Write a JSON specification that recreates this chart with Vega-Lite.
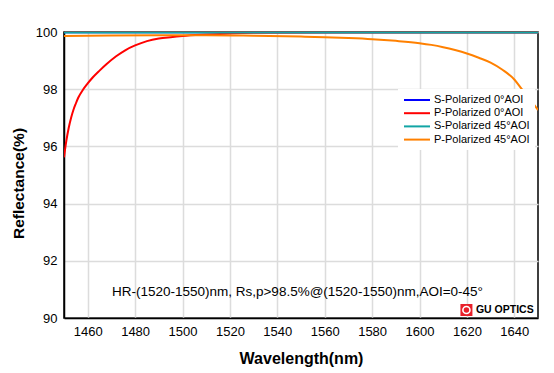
{
  "$schema": "https://vega.github.io/schema/vega-lite/v6.json",
  "width": 474,
  "height": 286,
  "autosize": {"type": "none"},
  "padding": {"left": 64, "top": 32, "right": 16, "bottom": 55},
  "background": "white",
  "config": {
    "view": {"stroke": "black", "strokeWidth": 1.5},
    "font": "Liberation Sans"
  },
  "datasets": {
    "lines": [
      {"wl": 1450, "R": 99.99, "series": "S-Polarized 0°AOI"},
      {"wl": 1500, "R": 99.99, "series": "S-Polarized 0°AOI"},
      {"wl": 1550, "R": 99.99, "series": "S-Polarized 0°AOI"},
      {"wl": 1600, "R": 99.99, "series": "S-Polarized 0°AOI"},
      {"wl": 1650, "R": 99.99, "series": "S-Polarized 0°AOI"},

      {"wl": 1450, "R": 95.62, "series": "P-Polarized 0°AOI"},
      {"wl": 1451, "R": 96.2, "series": "P-Polarized 0°AOI"},
      {"wl": 1452, "R": 96.65, "series": "P-Polarized 0°AOI"},
      {"wl": 1453, "R": 97.0, "series": "P-Polarized 0°AOI"},
      {"wl": 1454, "R": 97.28, "series": "P-Polarized 0°AOI"},
      {"wl": 1455, "R": 97.5, "series": "P-Polarized 0°AOI"},
      {"wl": 1456, "R": 97.7, "series": "P-Polarized 0°AOI"},
      {"wl": 1458, "R": 97.98, "series": "P-Polarized 0°AOI"},
      {"wl": 1460, "R": 98.2, "series": "P-Polarized 0°AOI"},
      {"wl": 1462, "R": 98.4, "series": "P-Polarized 0°AOI"},
      {"wl": 1465, "R": 98.65, "series": "P-Polarized 0°AOI"},
      {"wl": 1468, "R": 98.88, "series": "P-Polarized 0°AOI"},
      {"wl": 1472, "R": 99.15, "series": "P-Polarized 0°AOI"},
      {"wl": 1476, "R": 99.37, "series": "P-Polarized 0°AOI"},
      {"wl": 1480, "R": 99.53, "series": "P-Polarized 0°AOI"},
      {"wl": 1485, "R": 99.68, "series": "P-Polarized 0°AOI"},
      {"wl": 1490, "R": 99.77, "series": "P-Polarized 0°AOI"},
      {"wl": 1495, "R": 99.82, "series": "P-Polarized 0°AOI"},
      {"wl": 1500, "R": 99.86, "series": "P-Polarized 0°AOI"},
      {"wl": 1510, "R": 99.91, "series": "P-Polarized 0°AOI"},
      {"wl": 1520, "R": 99.95, "series": "P-Polarized 0°AOI"},
      {"wl": 1530, "R": 99.97, "series": "P-Polarized 0°AOI"},
      {"wl": 1560, "R": 99.98, "series": "P-Polarized 0°AOI"},
      {"wl": 1600, "R": 99.98, "series": "P-Polarized 0°AOI"},
      {"wl": 1650, "R": 99.98, "series": "P-Polarized 0°AOI"},

      {"wl": 1450, "R": 99.98, "series": "S-Polarized 45°AOI"},
      {"wl": 1500, "R": 99.98, "series": "S-Polarized 45°AOI"},
      {"wl": 1550, "R": 99.98, "series": "S-Polarized 45°AOI"},
      {"wl": 1600, "R": 99.98, "series": "S-Polarized 45°AOI"},
      {"wl": 1650, "R": 99.98, "series": "S-Polarized 45°AOI"},

      {"wl": 1450, "R": 99.86, "series": "P-Polarized 45°AOI"},
      {"wl": 1470, "R": 99.88, "series": "P-Polarized 45°AOI"},
      {"wl": 1490, "R": 99.89, "series": "P-Polarized 45°AOI"},
      {"wl": 1510, "R": 99.89, "series": "P-Polarized 45°AOI"},
      {"wl": 1530, "R": 99.87, "series": "P-Polarized 45°AOI"},
      {"wl": 1550, "R": 99.84, "series": "P-Polarized 45°AOI"},
      {"wl": 1560, "R": 99.82, "series": "P-Polarized 45°AOI"},
      {"wl": 1570, "R": 99.79, "series": "P-Polarized 45°AOI"},
      {"wl": 1580, "R": 99.75, "series": "P-Polarized 45°AOI"},
      {"wl": 1590, "R": 99.69, "series": "P-Polarized 45°AOI"},
      {"wl": 1600, "R": 99.61, "series": "P-Polarized 45°AOI"},
      {"wl": 1605, "R": 99.55, "series": "P-Polarized 45°AOI"},
      {"wl": 1610, "R": 99.47, "series": "P-Polarized 45°AOI"},
      {"wl": 1615, "R": 99.37, "series": "P-Polarized 45°AOI"},
      {"wl": 1620, "R": 99.25, "series": "P-Polarized 45°AOI"},
      {"wl": 1625, "R": 99.1, "series": "P-Polarized 45°AOI"},
      {"wl": 1630, "R": 98.93, "series": "P-Polarized 45°AOI"},
      {"wl": 1635, "R": 98.68, "series": "P-Polarized 45°AOI"},
      {"wl": 1640, "R": 98.34, "series": "P-Polarized 45°AOI"},
      {"wl": 1643, "R": 98.02, "series": "P-Polarized 45°AOI"},
      {"wl": 1646, "R": 97.72, "series": "P-Polarized 45°AOI"},
      {"wl": 1648, "R": 97.5, "series": "P-Polarized 45°AOI"},
      {"wl": 1650, "R": 97.27, "series": "P-Polarized 45°AOI"}
    ],
    "note": [
      {"wl": 1548.5, "R": 90.92, "label": "HR-(1520-1550)nm, Rs,p>98.5%@(1520-1550)nm,AOI=0-45°"}
    ],
    "logo": [
      {"wl": 1623.8, "R": 90.28, "label": "GU OPTICS"}
    ],
    "icon": [
      {"wl": 1619.8, "R": 90.28}
    ]
  },
  "layer": [
    {
      "data": {"name": "lines"},
      "mark": {"type": "line", "strokeWidth": 2, "clip": true, "interpolate": "monotone"},
      "encoding": {
        "x": {
          "field": "wl", "type": "quantitative",
          "scale": {"domain": [1450, 1650], "nice": false, "zero": false},
          "axis": {
            "title": "Wavelength(nm)",
            "values": [1460, 1480, 1500, 1520, 1540, 1560, 1580, 1600, 1620, 1640],
            "format": "d",
            "ticks": false,
            "domainColor": "black", "domainWidth": 1.5,
            "gridColor": "#dcdcdc", "gridWidth": 1.5,
            "labelFont": "Liberation Sans", "labelFontSize": 13, "labelColor": "black",
            "labelPadding": 7,
            "titleFont": "Liberation Sans", "titleFontSize": 16, "titleFontWeight": "bold", "titleColor": "black",
            "titleBaseline": "middle", "titleY": 40
          }
        },
        "y": {
          "field": "R", "type": "quantitative",
          "scale": {"domain": [90, 100], "nice": false, "zero": false},
          "axis": {
            "title": "Reflectance(%)",
            "values": [90, 92, 94, 96, 98, 100],
            "ticks": false,
            "domainColor": "black", "domainWidth": 1.5,
            "gridColor": "#dcdcdc", "gridWidth": 1.5,
            "labelFont": "Liberation Sans", "labelFontSize": 13, "labelColor": "black",
            "labelPadding": 7,
            "titleFont": "Liberation Sans", "titleFontSize": 15.5, "titleFontWeight": "bold", "titleColor": "black",
            "titleAngle": -90, "titleBaseline": "middle", "titleAlign": "center",
            "titleX": -46, "titleY": 151
          }
        },
        "color": {
          "field": "series", "type": "nominal",
          "scale": {
            "domain": ["S-Polarized 0°AOI", "P-Polarized 0°AOI", "S-Polarized 45°AOI", "P-Polarized 45°AOI"],
            "range": ["#0000ff", "#ff0000", "#12a5a5", "#ff8000"]
          },
          "legend": {
            "title": null,
            "orient": "none",
            "legendX": 334,
            "legendY": 57,
            "fillColor": "white",
            "padding": 5,
            "symbolType": "M-1,0L4.2,0",
            "symbolSize": 100,
            "symbolStrokeWidth": 2,
            "labelOffset": 19,
            "rowPadding": 2.2,
            "labelFont": "Liberation Sans",
            "labelFontSize": 11,
            "labelColor": "black"
          }
        }
      }
    },
    {
      "data": {"name": "note"},
      "mark": {"type": "text", "font": "Liberation Sans", "fontSize": 13.5, "color": "black", "align": "center", "baseline": "middle"},
      "encoding": {
        "x": {"field": "wl", "type": "quantitative"},
        "y": {"field": "R", "type": "quantitative"},
        "text": {"field": "label"}
      }
    },
    {
      "data": {"name": "icon"},
      "mark": {"type": "point", "shape": "square", "filled": true, "color": "#e8202a", "size": 144, "opacity": 1},
      "encoding": {
        "x": {"field": "wl", "type": "quantitative"},
        "y": {"field": "R", "type": "quantitative"}
      }
    },
    {
      "data": {"name": "icon"},
      "mark": {"type": "point", "shape": "circle", "filled": false, "color": "white", "size": 50, "strokeWidth": 1.6, "opacity": 1},
      "encoding": {
        "x": {"field": "wl", "type": "quantitative"},
        "y": {"field": "R", "type": "quantitative"}
      }
    },
    {
      "data": {"name": "logo"},
      "mark": {"type": "text", "font": "Liberation Sans", "fontSize": 10.5, "fontWeight": "bold", "color": "black", "align": "left", "baseline": "middle"},
      "encoding": {
        "x": {"field": "wl", "type": "quantitative"},
        "y": {"field": "R", "type": "quantitative"},
        "text": {"field": "label"}
      }
    }
  ]
}
